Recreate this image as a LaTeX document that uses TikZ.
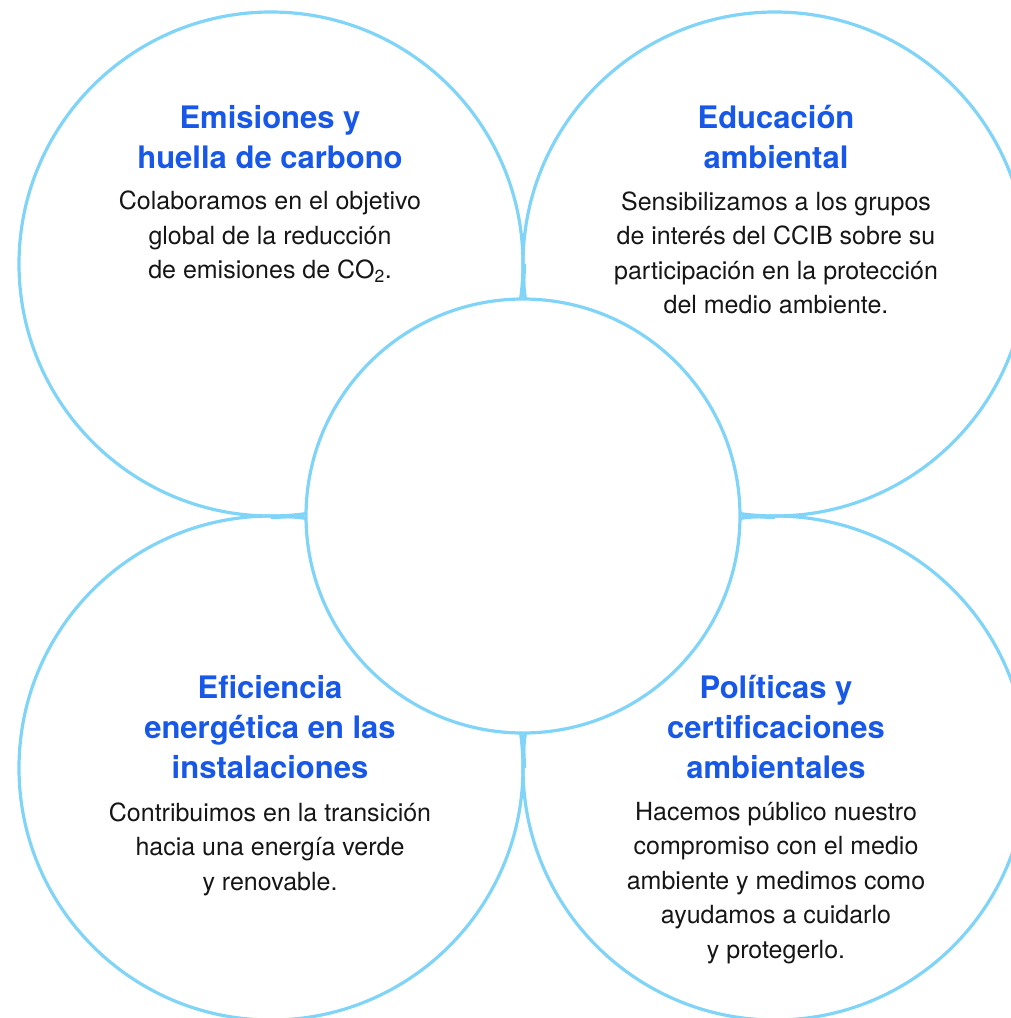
\documentclass[tikz,border=0pt]{standalone}
\usepackage{fontspec}
\setmainfont{TeX Gyre Heros}
\usetikzlibrary{positioning}
\definecolor{ringblue}{RGB}{128,212,248}
\definecolor{titleblue}{RGB}{24,88,232}
\definecolor{bodyblack}{RGB}{22,22,22}
\begin{document}
\begin{tikzpicture}[x=1pt, y=-1pt,
  ring/.style = {circle, draw = ringblue, line width = 3.2pt, inner sep = 0pt},
  bigring/.style = {ring, minimum size = 504pt},
  link/.style = {draw = ringblue, line width = 3.2pt},
  title/.style = {text = titleblue, align = center, inner sep = 0pt,
    font = \fontsize{31}{40}\selectfont\bfseries},
  body/.style = {text = bodyblack, align = center, inner sep = 0pt,
    font = \fontsize{25}{34.5}\selectfont}]
\useasboundingbox (0, 0) rectangle (1010, 1018);
\node[bigring] (tl) at (271, 264) {};
\node[bigring] (tr) at (775, 264) {};
\node[bigring] (bl) at (271, 768) {};
\node[bigring] (br) at (775, 768) {};
\node[ring, minimum size = 434pt, fill = white] (ctr) at (523, 516) {};
\draw[link] (tl.east) -- (ctr.north);
\draw[link] (tl.south) -- (ctr.west);
\draw[link] (ctr.east) -- (tr.south);
\draw[link] (ctr.south) -- (bl.east);
\node[title] (tltitle) at (270, 137) {Emisiones y\\huella de carbono};
\node[body] (tlbody) at (270, 237) {Colaboramos en el objetivo\\global de la reducción\\de emisiones de CO\textsubscript{2}.};
\node[title] (trtitle) at (776, 137) {Educación\\ambiental};
\node[body] (trbody) at (776, 253) {Sensibilizamos a los grupos\\de interés del CCIB sobre su\\participación en la protección\\del medio ambiente.};
\node[title] (bltitle) at (270, 727) {Eficiencia\\energética en las\\instalaciones};
\node[body] (blbody) at (270, 849) {Contribuimos en la transición\\hacia una energía verde\\y renovable.};
\node[title] (brtitle) at (776, 727) {Políticas y\\certificaciones\\ambientales};
\node[body] (brbody) at (776, 883) {Hacemos público nuestro\\compromiso con el medio\\ambiente y medimos como\\ayudamos a cuidarlo\\y protegerlo.};
\end{tikzpicture}
\end{document}
